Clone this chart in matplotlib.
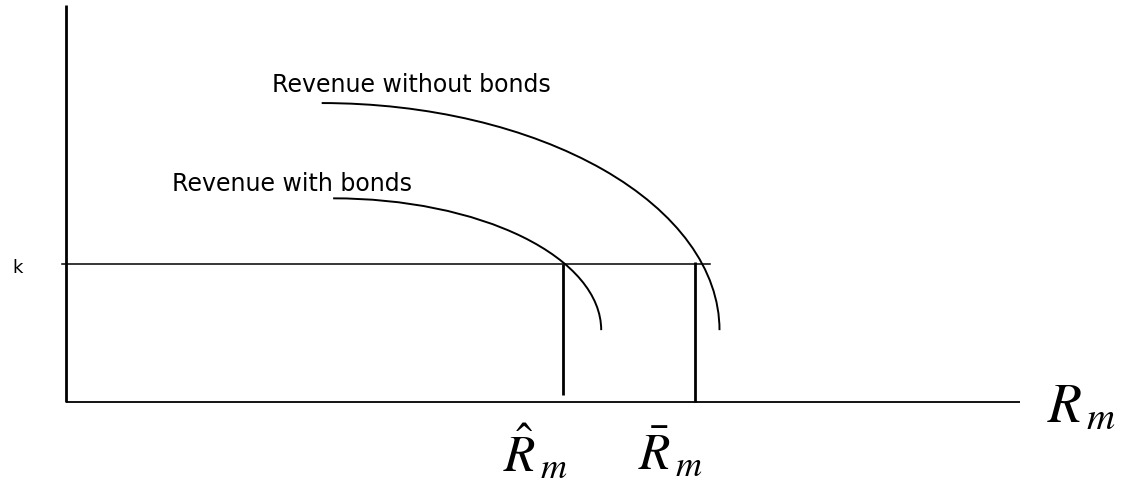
"""
Revenue with and without bonds: two concave revenue curves, threshold k.
"""

import matplotlib.pyplot as plt
from matplotlib.patches import Arc

plt.rcParams['mathtext.fontset'] = 'stix'

# Diagram values (abstract units: x axis runs 0..10, y axis 0..10)
k_level = 3.48
r_hat = 5.21
r_bar = 6.59
k_line_end = 6.75

# revenue curves drawn as quarter ellipses: centre, semi-axes
curve_names = ['Revenue with bonds', 'Revenue without bonds']
curve_cx = [2.80, 2.68]
curve_cy = [1.81, 1.81]
curve_a = [2.81, 4.17]
curve_b = [3.32, 5.72]

label_x = [1.11, 2.16]
label_y = [5.50, 7.98]

ink = 'black'

fig = plt.figure(figsize=(11.28, 4.86), dpi=100)
fig.patch.set_facecolor('white')
ax = fig.add_axes([0, 0, 1, 1])
ax.set_xlim(-0.692, 11.132)
ax.set_ylim(-2.116, 10.126)
ax.axis('off')

# axes
ax.plot([0, 0], [0, 10], color=ink, lw=2.0, solid_capstyle='butt')
ax.plot([0, 10], [0, 0], color=ink, lw=1.3, solid_capstyle='butt')

# k threshold
ax.plot([-0.04, k_line_end], [k_level, k_level], color=ink, lw=1.1)
ax.text(-0.56, k_level - 0.1, 'k', fontsize=13, ha='left', va='center',
        color=ink)

# vertical drops to the axis
ax.plot([r_hat, r_hat], [k_level, 0.18], color=ink, lw=2.0,
        solid_capstyle='butt')
ax.plot([r_bar, r_bar], [k_level + 0.05, 0], color=ink, lw=2.0,
        solid_capstyle='butt')

# curves
for cx, cy, a, b in zip(curve_cx, curve_cy, curve_a, curve_b):
    ax.add_patch(Arc((cx, cy), 2 * a, 2 * b, theta1=0, theta2=90,
                     color=ink, lw=1.4))

for name, lx, ly in zip(curve_names, label_x, label_y):
    ax.text(lx, ly, name, fontsize=17, ha='left', va='center', color=ink)

# axis labels
ax.text(10.28, -0.12, r'$R_{\,m}$', fontsize=40, ha='left', va='center',
        color=ink)
ax.text(4.58, -1.30, r'$\hat{R}_{\,m}$', fontsize=37, ha='left', va='center',
        color=ink)
ax.text(6.0, -1.30, r'$\bar{R}_{\,m}$', fontsize=37, ha='left', va='center',
        color=ink)

plt.savefig('out.png', dpi=100, facecolor='white')
